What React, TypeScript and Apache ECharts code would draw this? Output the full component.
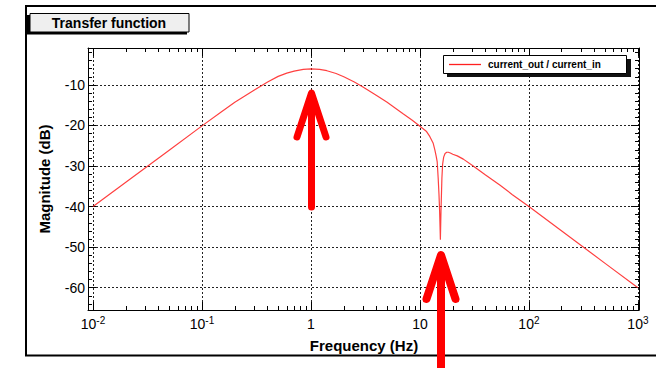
import { useEffect, useRef } from "react";
import * as echarts from "echarts";

// Measured transfer function |current_out / current_in|
const FREQ_HZ = [
  0.01, 0.02, 0.05, 0.1, 0.15, 0.2, 0.3, 0.4, 0.5, 0.6, 0.7, 0.85, 1, 1.2,
  1.4, 1.7, 2, 2.5, 3, 4, 5, 6, 7, 8.5, 10, 11.5, 12.3, 13.2, 13.7, 14.1,
  14.4, 14.7, 14.95, 15.15, 15.4, 15.6, 15.75, 15.9, 16.15, 16.5, 17, 17.6,
  18.2, 19, 20, 22, 25, 30.8, 40, 54, 70, 100, 200, 500, 1000,
];
const MAG_DB = [
  -40, -34, -26.1, -20.1, -16.7, -14.3, -11.3, -9.3, -7.9, -7.1, -6.6, -6.15,
  -6.05, -6.15, -6.5, -7.2, -8.0, -9.3, -10.5, -12.6, -14.3, -15.8, -17.1,
  -18.7, -20.2, -21.5, -22.7, -24.3, -26, -27.6, -29, -33, -37, -41, -48.2,
  -41, -37, -33, -29.5, -27.8, -26.9, -26.6, -26.6, -26.8, -27.1, -27.5,
  -28.3, -30.0, -32.2, -34.7, -37.0, -40, -46, -54, -60,
];

const SERIES_NAME = "current_out / current_in";
const TITLE = "Transfer function";
const X_TITLE = "Frequency (Hz)";
const Y_TITLE = "Magnitude (dB)";

// Frequency axis works on log10(f); labels per decade: [mantissa, exponent]
const X_DECADES = [-2, -1, 0, 1, 2, 3];
const X_TICK_TEXT: [string, string][] = [
  ["10", "-2"],
  ["10", "-1"],
  ["1", ""],
  ["10", ""],
  ["10", "2"],
  ["10", "3"],
];
const Y_MAJOR = [-60, -50, -40, -30, -20, -10];

const X_MIN = -2.046;
const X_MAX = 3.01;
const Y_MIN = -65.5;
const Y_MAX = -0.9;

const FONT = '"Liberation Sans", Arial, Helvetica, sans-serif';

const xMinor: number[] = [];
for (let d = -3; d <= 3; d++) {
  for (let k = 2; k <= 9; k++) {
    const v = d + Math.log10(k);
    if (v > X_MIN && v < X_MAX) xMinor.push(v);
  }
}
const yMinor: number[] = [];
for (let v = -64; v <= -2; v += 2) {
  if (v % 10 !== 0) yMinor.push(v);
}

const black = { color: "#000", width: 1 };
const gridLine = {
  show: true,
  lineStyle: { color: "#222", width: 1, type: [2, 2] as number[] },
};

function xAxisDef(position: "top" | "bottom", minor: boolean, labels: boolean) {
  return {
    type: "value" as const,
    gridIndex: 0,
    position,
    min: X_MIN,
    max: X_MAX,
    axisLine: { show: !minor, onZero: false, lineStyle: black },
    axisTick: {
      show: true,
      inside: true,
      length: minor ? 4 : 8,
      customValues: minor ? xMinor : X_DECADES,
      lineStyle: black,
    },
    axisLabel: labels
      ? {
          show: true,
          customValues: X_DECADES,
          margin: 5,
          formatter: (v: number) => {
            const i = X_DECADES.findIndex((d) => Math.abs(d - v) < 1e-6);
            if (i < 0) return "";
            const [m, e] = X_TICK_TEXT[i];
            return e ? `{b|${m}}{s|${e}}` : `{b|${m}}`;
          },
          rich: {
            b: { fontSize: 14, fontFamily: FONT, color: "#000", lineHeight: 18 },
            s: { fontSize: 10, fontFamily: FONT, color: "#000", verticalAlign: "top" },
          },
        }
      : { show: false },
    splitLine: labels ? gridLine : { show: false },
    minorTick: { show: false },
    minorSplitLine: { show: false },
  };
}

function yAxisDef(position: "left" | "right", minor: boolean, labels: boolean) {
  return {
    type: "value" as const,
    gridIndex: 0,
    position,
    min: Y_MIN,
    max: Y_MAX,
    axisLine: { show: !minor, onZero: false, lineStyle: black },
    axisTick: {
      show: true,
      inside: true,
      length: minor ? 4 : 8,
      customValues: minor ? yMinor : Y_MAJOR,
      lineStyle: black,
    },
    axisLabel: labels
      ? {
          show: true,
          customValues: Y_MAJOR,
          margin: 3,
          fontSize: 14,
          fontFamily: FONT,
          color: "#000",
          formatter: (v: number) => String(v),
        }
      : { show: false },
    splitLine: labels ? gridLine : { show: false },
    minorTick: { show: false },
    minorSplitLine: { show: false },
  };
}

function arrow(x: number, yTail: number, yTip: number, half: number, headLen: number, w: number) {
  const style = {
    stroke: "#ff0000",
    fill: null,
    lineWidth: w,
    lineCap: "round",
    lineJoin: "round",
  };
  return [
    { type: "line", z: 100, shape: { x1: x, y1: yTail, x2: x, y2: yTip + 3 }, style },
    {
      type: "polyline",
      z: 100,
      shape: {
        points: [
          [x - half, yTip + headLen],
          [x, yTip],
          [x + half, yTip + headLen],
        ],
      },
      style,
    },
  ];
}

export default function App() {
  const ref = useRef<HTMLDivElement>(null);

  useEffect(() => {
    const el = ref.current;
    if (!el) return;
    const chart = echarts.init(el, null, { renderer: "svg" });

    const data = FREQ_HZ.map((f, i) => [Math.log10(f), MAG_DB[i]]);

    chart.setOption({
      animation: false,
      backgroundColor: "#fff",
      grid: {
        left: 88,
        right: 17,
        top: 48,
        bottom: 58,
        containLabel: false,
        outerBoundsMode: "none",
      },
      xAxis: [
        xAxisDef("bottom", false, true),
        xAxisDef("bottom", true, false),
        xAxisDef("top", false, false),
        xAxisDef("top", true, false),
      ],
      yAxis: [
        yAxisDef("left", false, true),
        yAxisDef("left", true, false),
        yAxisDef("right", false, false),
        yAxisDef("right", true, false),
      ],
      series: [
        {
          name: SERIES_NAME,
          type: "line",
          xAxisIndex: 0,
          yAxisIndex: 0,
          data,
          symbol: "none",
          showSymbol: false,
          smooth: false,
          lineStyle: { color: "rgba(255,30,30,0.85)", width: 1.2 },
          z: 3,
        },
      ],
      graphic: [
        // outer canvas frame
        {
          type: "rect",
          z: 50,
          shape: { x: 26, y: 6, width: 700, height: 349.5 },
          style: { fill: null, stroke: "#000", lineWidth: 2 },
        },
        // title pave with shadow
        {
          type: "rect",
          z: 50,
          shape: { x: 27, y: 15, width: 160, height: 19.5 },
          style: { fill: "#000" },
        },
        {
          type: "rect",
          z: 51,
          shape: { x: 30, y: 13.5, width: 159, height: 18.5 },
          style: { fill: "#efefef", stroke: "#000", lineWidth: 1 },
        },
        {
          type: "text",
          z: 52,
          x: 109,
          y: 23,
          style: {
            text: TITLE,
            fontSize: 14,
            fontWeight: "bold",
            fontFamily: FONT,
            fill: "#000",
            align: "center",
            verticalAlign: "middle",
            textAlign: "center",
            textVerticalAlign: "middle",
          },
        },
        // legend box with shadow
        {
          type: "rect",
          z: 60,
          shape: { x: 447, y: 59, width: 184, height: 18 },
          style: { fill: "#111" },
        },
        {
          type: "rect",
          z: 61,
          shape: { x: 443.5, y: 55.5, width: 183, height: 18 },
          style: { fill: "#fff", stroke: "#000", lineWidth: 1 },
        },
        {
          type: "line",
          z: 62,
          shape: { x1: 449, y1: 64.5, x2: 481, y2: 64.5 },
          style: { stroke: "#ff2020", lineWidth: 1.3 },
        },
        {
          type: "text",
          z: 62,
          x: 488,
          y: 64.5,
          style: {
            text: SERIES_NAME,
            fontSize: 10,
            fontWeight: "bold",
            fontFamily: FONT,
            fill: "#000",
            align: "left",
            verticalAlign: "middle",
            textAlign: "left",
            textVerticalAlign: "middle",
          },
        },
        // axis titles
        {
          type: "text",
          z: 52,
          x: 364,
          y: 345,
          style: {
            text: X_TITLE,
            fontSize: 15,
            fontWeight: "bold",
            fontFamily: FONT,
            fill: "#000",
            align: "center",
            verticalAlign: "middle",
            textAlign: "center",
            textVerticalAlign: "middle",
          },
        },
        {
          type: "text",
          z: 52,
          x: 44,
          y: 179,
          rotation: Math.PI / 2,
          style: {
            text: Y_TITLE,
            fontSize: 15,
            fontWeight: "bold",
            fontFamily: FONT,
            fill: "#000",
            align: "center",
            verticalAlign: "middle",
            textAlign: "center",
            textVerticalAlign: "middle",
          },
        },
        // annotation arrows
        ...arrow(311.5, 207, 93, 14.5, 44, 7),
        ...arrow(441, 375, 255, 14.5, 44, 8),
      ],
    });

    return () => chart.dispose();
  }, []);

  return (
    <div
      ref={ref}
      style={{
        position: "fixed",
        left: 0,
        top: 0,
        width: 656,
        height: 368,
        background: "#fff",
      }}
    />
  );
}
